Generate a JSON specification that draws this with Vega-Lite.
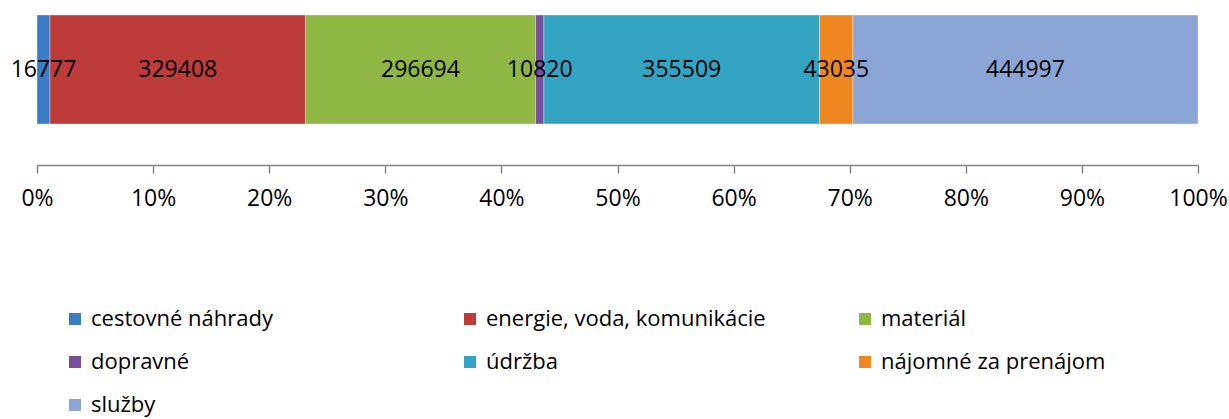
{
  "$schema": "https://vega.github.io/schema/vega-lite/v6.json",
  "width": 1161,
  "height": 109,
  "autosize": {"type": "none"},
  "padding": {"left": 37, "top": 15, "right": 31, "bottom": 295},
  "background": "white",
  "config": {
    "view": {"stroke": null},
    "font": "Open Sans"
  },
  "data": {
    "values": [
      {"cat": "cestovné náhrady", "value": 16777, "ord": 1, "r": "a"},
      {"cat": "energie, voda, komunikácie", "value": 329408, "ord": 2, "r": "a"},
      {"cat": "materiál", "value": 296694, "ord": 3, "r": "a"},
      {"cat": "dopravné", "value": 10820, "ord": 4, "r": "a"},
      {"cat": "údržba", "value": 355509, "ord": 5, "r": "a"},
      {"cat": "nájomné za prenájom", "value": 43035, "ord": 6, "r": "a"},
      {"cat": "služby", "value": 444997, "ord": 7, "r": "a"}
    ]
  },
  "transform": [
    {"stack": "value", "groupby": ["r"], "sort": [{"field": "ord", "order": "ascending"}], "offset": "normalize", "as": ["s0", "s1"]}
  ],
  "encoding": {
    "y": {"field": "r", "type": "nominal", "axis": null, "scale": {"paddingInner": 0, "paddingOuter": 0}}
  },
  "layer": [
    {
      "mark": {"type": "bar", "stroke": "#ffffff", "strokeOpacity": 0.35, "strokeWidth": 1},
      "encoding": {
        "x": {
          "field": "s0",
          "type": "quantitative",
          "scale": {"domain": [0, 1], "nice": false},
          "axis": {
            "format": ".0%",
            "values": [0, 0.1, 0.2, 0.3, 0.4, 0.5, 0.6, 0.7, 0.8, 0.9, 1],
            "grid": false,
            "title": null,
            "offset": 41,
            "domainColor": "#868686",
            "domainWidth": 1.5,
            "tickColor": "#868686",
            "tickWidth": 1.5,
            "tickSize": 8,
            "labelPadding": 14,
            "labelFontSize": 23,
            "labelFont": "Open Sans",
            "labelColor": "#000000",
            "labelOverlap": false,
            "labelFlush": false
          }
        },
        "x2": {"field": "s1"},
        "color": {
          "field": "cat",
          "type": "nominal",
          "scale": {
            "domain": ["cestovné náhrady", "energie, voda, komunikácie", "materiál", "dopravné", "údržba", "nájomné za prenájom", "služby"],
            "range": ["#3b7cc7", "#bd3c3a", "#8fb743", "#774d9c", "#33a3c2", "#f0861f", "#8aa5d6"]
          },
          "legend": {
            "orient": "none",
            "direction": "horizontal",
            "legendX": 27,
            "legendY": 293,
            "title": null,
            "columns": 3,
            "columnPadding": 88,
            "rowPadding": 21,
            "gridAlign": "all",
            "symbolType": "square",
            "symbolSize": 144,
            "symbolStrokeWidth": 0,
            "symbolOpacity": 1,
            "labelFontSize": 22,
            "labelFont": "Open Sans",
            "labelColor": "#000000",
            "labelOffset": 5,
            "labelLimit": 600
          }
        }
      }
    },
    {
      "transform": [
        {"fold": ["s0", "s1"], "as": ["k", "pos"]},
        {"aggregate": [{"op": "mean", "field": "pos", "as": "mid"}], "groupby": ["cat", "value", "r"]}
      ],
      "mark": {"type": "text", "fontSize": 23, "font": "Open Sans", "color": "#000000"},
      "encoding": {
        "x": {"field": "mid", "type": "quantitative"},
        "text": {"field": "value", "type": "quantitative", "format": "d"}
      }
    }
  ]
}
